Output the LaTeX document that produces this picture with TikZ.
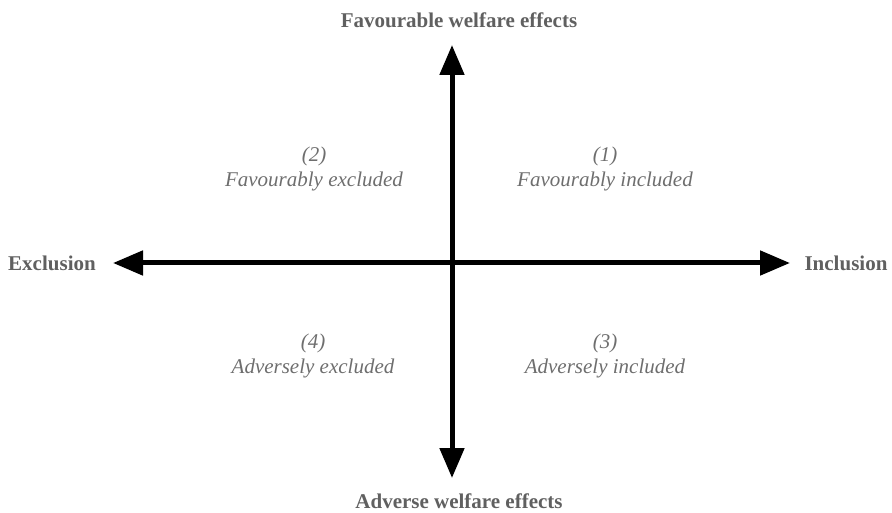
\documentclass[tikz,border=0pt]{standalone}
\usepackage{fontspec}
\setmainfont{Liberation Serif}
\usetikzlibrary{arrows.meta, positioning, calc}
\definecolor{axisgray}{HTML}{606060}
\definecolor{quadgray}{HTML}{6E6E6E}
\tikzset{
  axislabel/.style={text=axisgray, font=\bfseries\fontsize{21}{24}\selectfont, inner sep=0pt},
  quadlabel/.style={text=quadgray, font=\itshape\fontsize{21}{25}\selectfont, align=center, inner sep=0pt},
  axisarrow/.style={line width=5pt, {Triangle[length=30pt,width=24pt]}-{Triangle[length=30pt,width=24pt]}}
}
\begin{document}
\begin{tikzpicture}[x=1pt, y=-1pt]
  \useasboundingbox (0,0) rectangle (892,513);
  % Axis ends
  \coordinate (origin) at (452,263);
  \coordinate (excl_end) at (113,263);
  \coordinate (incl_end) at (790,263);
  \coordinate (fav_end) at (452,45);
  \coordinate (adv_end) at (452,478);

  % Arrows
  \draw [axisarrow] (excl_end) -- (incl_end);
  \draw [axisarrow] (adv_end) -- (fav_end);

  % Axis labels
  \node (excl_label) [axislabel] at (52,263) {Exclusion};
  \node (incl_label) [axislabel] at (846,263) {Inclusion};
  \node (fav_label) [axislabel] at (459,20) {Favourable welfare effects};
  \node (adv_label) [axislabel] at (459,501) {Adverse welfare effects};

  % Quadrants
  \node (quad_one) [quadlabel] at (605,169) {(1)\\Favourably included};
  \node (quad_two) [quadlabel] at (314,169) {(2)\\Favourably excluded};
  \node (quad_three) [quadlabel] at (605,356) {(3)\\Adversely included};
  \node (quad_four) [quadlabel] at (313,356) {(4)\\Adversely excluded};
\end{tikzpicture}
\end{document}
